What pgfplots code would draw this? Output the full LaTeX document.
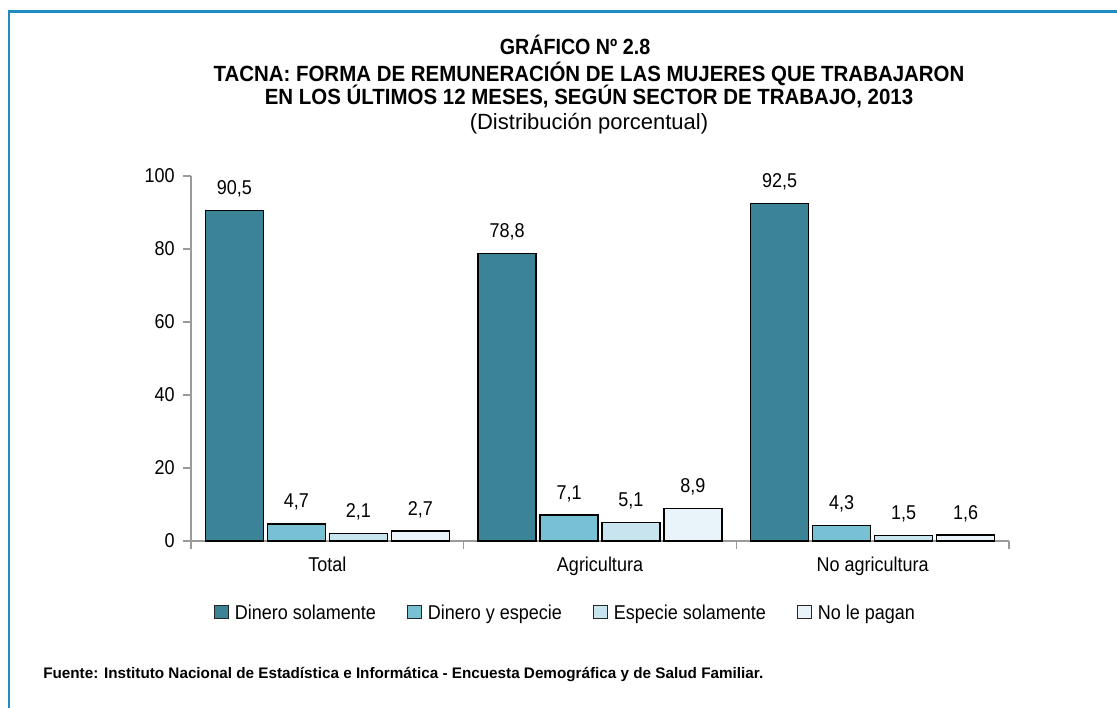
\documentclass[border=0pt]{standalone}
\usepackage{fontspec}
\setmainfont{Liberation Sans}[FakeStretch=0.9]
\newfontfamily\titlefont{Liberation Sans}
\newfontfamily\titleboldfont{Liberation Sans}[FakeStretch=0.93]
\newfontfamily\gfont{Liberation Sans}[FakeStretch=0.895]
\usepackage{pgfplots}
\pgfplotsset{compat=1.18}
\definecolor{cA}{HTML}{3B8497}
\definecolor{cB}{HTML}{78C0D4}
\definecolor{cC}{HTML}{C8E5EF}
\definecolor{cD}{HTML}{E8F4F9}
\definecolor{axisgray}{HTML}{9A9A9A}
\definecolor{bordercol}{HTML}{1E8BC3}
\begin{document}
\begin{tikzpicture}
\useasboundingbox (0,0) rectangle (837.75pt,530.25pt);
\fill[white] (0,0) rectangle (837.75pt,530.25pt);
\draw[line width=2pt, draw=bordercol] (6.75pt,-10pt) -- (6.75pt,521.625pt) -- (850pt,521.625pt);
% titles
\node[anchor=base, font=\gfont\bfseries\fontsize{16.5}{20}\selectfont, inner sep=0] at (431.25pt,489pt) {GRÁFICO Nº 2.8};
\node[anchor=base, font=\titleboldfont\bfseries\fontsize{16.5}{20}\selectfont, inner sep=0] at (441.75pt,468.75pt) {TACNA: FORMA DE REMUNERACIÓN DE LAS MUJERES QUE TRABAJARON};
\node[anchor=base, font=\titleboldfont\bfseries\fontsize{16.5}{20}\selectfont, inner sep=0] at (441.75pt,451.5pt) {EN LOS ÚLTIMOS 12 MESES, SEGÚN SECTOR DE TRABAJO, 2013};
\node[anchor=base, font=\titlefont\fontsize{16.5}{20}\selectfont, inner sep=0] at (441.75pt,432.75pt) {(Distribución porcentual)};
\begin{axis}[
  at={(143.25pt,124.5pt)}, anchor=south west,
  scale only axis, width=613.5pt, height=273.75pt,
  xmin=-0.5, xmax=2.5, ymin=0, ymax=100,
  axis x line*=bottom, axis y line*=left,
  axis line style={draw=axisgray, line width=1.1pt},
  tick style={draw=axisgray, line width=1.1pt},
  tick align=outside, major tick length=6pt,
  ytick={0,20,40,60,80,100},
  xtick={-0.5,0.5,1.5,2.5}, xticklabels={},
  extra x ticks={0,1,2},
  extra x tick labels={Total,Agricultura,No agricultura},
  extra x tick style={major tick length=0pt, xticklabel style={anchor=base, yshift=-23pt}},
  tick label style={font=\fontsize{15}{18}\selectfont},
  yticklabel style={anchor=east, inner sep=0pt, xshift=-6pt},
  /pgf/number format/assume math mode=true,
  ybar, bar width=0.213,
  nodes near coords={\pgfmathprintnumber[fixed,fixed zerofill,precision=1,use comma,assume math mode=true]{\pgfplotspointmeta}},
  nodes near coords style={anchor=base, yshift=12pt, inner sep=0pt, font=\fontsize{15}{18}\selectfont, text=black},
  legend columns=4,
  legend style={at={(0.4584,-0.198)}, anchor=center, draw=none, fill=none, font=\fontsize{15}{18}\selectfont,
    /tikz/every even column/.append style={column sep=21.5pt}},
  legend image code/.code={\draw[#1, line width=0.8pt, draw=black!85] (0pt,-4pt) rectangle (10pt,6pt); \path (12.5pt,0pt);},
  clip=false,
]
\addplot[fill=cA, draw=black, line width=1.1pt, bar shift=-0.341] coordinates {(0,90.5) (1,78.8) (2,92.5)};
\addplot[fill=cB, draw=black, line width=1.1pt, bar shift=-0.1136] coordinates {(0,4.7) (1,7.1) (2,4.3)};
\addplot[fill=cC, draw=black, line width=1.1pt, bar shift=0.1136] coordinates {(0,2.1) (1,5.1) (2,1.5)};
\addplot[fill=cD, draw=black, line width=1.1pt, bar shift=0.341] coordinates {(0,2.7) (1,8.9) (2,1.6)};
\legend{Dinero solamente, Dinero y especie, Especie solamente, No le pagan}
\end{axis}
\node[anchor=base west, font=\titlefont\bfseries\fontsize{11.45}{13}\selectfont, inner sep=0] at (32.25pt,21.75pt) {Fuente: Instituto Nacional de Estadística e Informática - Encuesta Demográfica y de Salud Familiar.};
\end{tikzpicture}
\end{document}
